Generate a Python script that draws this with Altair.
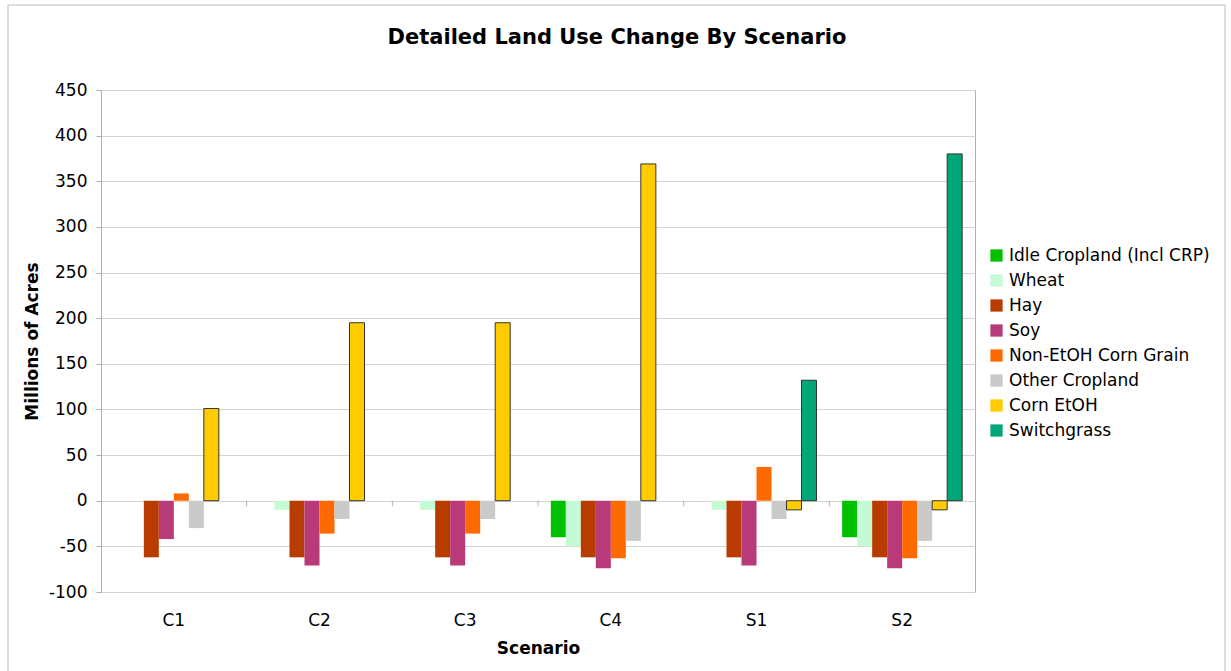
import altair as alt
import pandas as pd

scenarios = ["C1", "C2", "C3", "C4", "S1", "S2"]
categories = ["Idle Cropland (Incl CRP)", "Wheat", "Hay", "Soy",
              "Non-EtOH Corn Grain", "Other Cropland", "Corn EtOH", "Switchgrass"]
colors = ["#00c000", "#c4fad4", "#b83c00", "#b83a78", "#ff6a00", "#cacaca", "#ffcc00", "#00a677"]

idle = [0, 0, 0, -40, 0, -40]
wheat = [0, -10, -10, -50, -10, -50]
hay = [-62, -62, -62, -62, -62, -62]
soy = [-42, -71, -71, -74, -71, -74]
non_etoh = [8, -36, -36, -63, 37, -63]
other = [-30, -20, -20, -44, -20, -44]
corn_etoh = [101, 195, 195, 369, -10, -10]
switchgrass = [0, 0, 0, 0, 132, 380]

title_text = "Detailed Land Use Change By Scenario"

series = [idle, wheat, hay, soy, non_etoh, other, corn_etoh, switchgrass]
rows = []
for cat, vals in zip(categories, series):
    for s, v in zip(scenarios, vals):
        if v != 0:
            rows.append({"Scenario": s, "Category": cat, "Value": v})
df = pd.DataFrame(rows)

FONT = "DejaVu Sans"
W, H = 874, 502

bars = alt.Chart(df).mark_bar(strokeWidth=1).encode(
    x=alt.X("Scenario:N", sort=scenarios,
            scale=alt.Scale(paddingInner=0.176, paddingOuter=0.088),
            axis=alt.Axis(title="Scenario", labelAngle=0, ticks=False, domain=False,
                          labelPadding=20, titlePadding=12, labelFontSize=17,
                          titleFontSize=17, titleFontWeight="bold", grid=False)),
    xOffset=alt.XOffset("Category:N", sort=categories,
                        scale=alt.Scale(domain=categories, paddingInner=0, paddingOuter=0)),
    y=alt.Y("Value:Q",
            scale=alt.Scale(domain=[-100, 450], nice=False, zero=True),
            axis=alt.Axis(title="Millions of Acres", values=list(range(-100, 451, 50)),
                          labelExpr="'' + datum.value",
                          tickSize=5, tickColor="#b0b0b0", domainColor="#b0b0b0",
                          gridColor="#d4d4d4", labelPadding=9, labelFontSize=17,
                          titleFontSize=17, titleFontWeight="bold", titlePadding=7)),
    color=alt.Color("Category:N", sort=categories,
                    scale=alt.Scale(domain=categories, range=colors),
                    legend=alt.Legend(title=None, orient="none", legendX=887, legendY=157,
                                      symbolType="square", symbolSize=150,
                                      symbolStrokeWidth=0, labelFontSize=17,
                                      labelOffset=4, rowPadding=7, labelLimit=300)),
    stroke=alt.condition(
        alt.FieldOneOfPredicate(field="Category", oneOf=["Corn EtOH", "Switchgrass"]),
        alt.value("#333333"), alt.value(None)),
)

bounds = pd.DataFrame({"Scenario": scenarios[1:]})
ticks = alt.Chart(bounds).mark_rule(color="#b0b0b0", xOffset=-12.8).encode(
    x=alt.X("Scenario:N", sort=scenarios, bandPosition=0),
    y=alt.datum(0),
    y2=alt.datum(-6),
)

frame = alt.Chart(pd.DataFrame({"a": [0]})).mark_rect(
    fill=None, stroke="#bdbdbd", strokeWidth=1
).encode(
    x=alt.value(-93), x2=alt.value(1124), y=alt.value(-85), y2=alt.value(600)
)

title = alt.Chart(pd.DataFrame({"t": [title_text]})).mark_text(
    fontSize=21, fontWeight="bold", font=FONT, color="#000000",
    align="center", baseline="middle"
).encode(x=alt.value(516), y=alt.value(-52), text="t:N")

chart = alt.layer(frame, bars, ticks, title).properties(
    width=W, height=H,
    autosize=alt.AutoSizeParams(type="none"),
    padding={"left": 101, "top": 90, "right": 256, "bottom": 79},
).configure(font=FONT).configure_view(stroke="#b0b0b0").configure_axis(
    labelColor="#000000", titleColor="#000000", labelFont=FONT, titleFont=FONT
).configure_legend(labelFont=FONT, labelColor="#000000")

chart.save("out.html", embed_options={"renderer": "svg", "actions": False})
